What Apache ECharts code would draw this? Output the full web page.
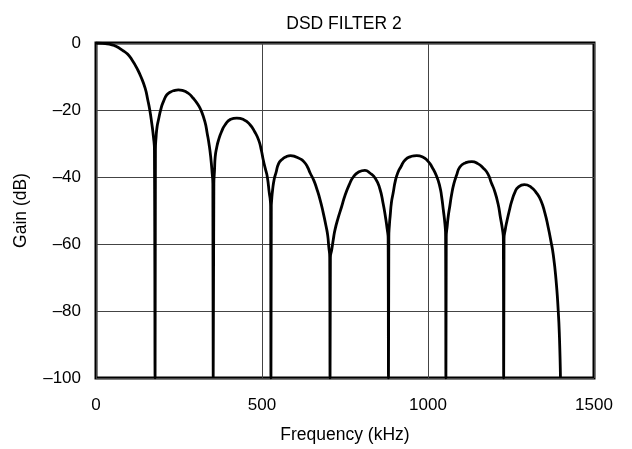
<!DOCTYPE html>
<html>
<head>
<meta charset="utf-8">
<title>DSD FILTER 2</title>
<script src="https://cdn.jsdelivr.net/npm/echarts@6/dist/echarts.min.js"></script>
<style>
  html, body { margin: 0; padding: 0; background: #fff; }
  #main { width: 632px; height: 449px; }
</style>
</head>
<body>
<div id="main"></div>
<script>
// values (frequency in kHz, gain in dB)
var freqKHz = [
  0, 20, 40, 60, 80, 95, 110, 123, 135, 148, 156, 162, 168, 173, 176, 178,
  179, 181, 184, 188, 196, 203, 213, 223, 235, 248, 262, 278, 293, 308, 316, 328, 335, 341, 346, 350, 352, 353,
  354, 355, 357, 359, 364, 369, 378, 389, 405, 424, 445, 464, 478, 490, 498, 504, 510, 516, 522, 525, 526, 527,
  528, 529, 532, 537, 542, 550, 560, 572, 586, 600, 615, 626, 637, 645, 656, 665, 675, 684, 693, 698, 701, 704, 705,
  706, 710, 715, 720, 730, 740, 750, 765, 775, 790, 810, 825, 842, 855, 865, 872, 877, 880, 881,
  882, 884, 886, 890, 895, 902, 910, 918, 931, 948, 966, 984, 1001, 1012, 1026, 1036, 1041, 1046, 1051, 1053, 1054,
  1055, 1058, 1061, 1066, 1071, 1078, 1086, 1096, 1112, 1132, 1150, 1166, 1180, 1191, 1200, 1211, 1218, 1224, 1227, 1228,
  1229, 1233, 1237, 1245, 1252, 1262, 1272, 1290, 1310, 1327, 1340, 1352, 1362, 1370, 1377, 1385, 1392, 1396, 1399
];
var gainDB = [
  0, -0.1, -0.3, -1, -2.2, -3.3, -5.3, -7.5, -10, -13.5, -17, -20, -24, -28, -32, -100,
  -32, -28, -25, -23, -19.5, -17.5, -15.5, -14.7, -14.2, -14, -14.2, -15, -16.5, -18.5, -20, -23.5, -27, -30.5, -34.5, -39, -42, -100,
  -100, -42, -38, -34, -31, -29, -26.5, -24.4, -22.8, -22.4, -22.9, -24.4, -26.5, -29, -32, -35, -37.5, -40, -44.8, -47, -49, -100,
  -49, -47, -43.8, -40.5, -38.8, -36, -34.8, -34, -33.6, -33.9, -34.6, -35.4, -37, -38.8, -41, -43.5, -46.8, -50.5, -54.7, -57.5, -60.7, -64, -100,
  -64, -61.7, -58.5, -55.7, -52, -48.8, -45.5, -41.8, -40, -38.6, -38, -38.8, -40.5, -43.5, -48, -52, -55.5, -58.5, -100,
  -58, -54, -51.7, -47.5, -44.8, -41, -38.5, -37, -34.9, -33.9, -33.6, -34, -35.4, -37, -39.8, -43, -45.8, -49.7, -54, -57.7, -100,
  -58, -54.5, -51.7, -48.5, -45.3, -42, -39.5, -37, -35.8, -35.4, -36, -37.3, -39, -41.8, -44, -48, -52, -55.5, -58.5, -100,
  -58.5, -55.5, -53.5, -50, -47.3, -44.5, -43, -42.3, -43, -44.8, -47, -50.7, -55, -59, -63, -70, -79.5, -88, -100
];
var xTicks = [0, 500, 1000, 1500];
var yTicks = [-100, -80, -60, -40, -20, 0];

var points = freqKHz.map(function (f, i) { return [f, gainDB[i]]; });

var dom = document.getElementById('main');
var myChart = echarts.init(dom, null, { renderer: 'canvas' });
var font = 'Liberation Sans, Arial, Helvetica, sans-serif';

var option = {
  animation: false,
  backgroundColor: '#fff',
  textStyle: { fontFamily: font },
  title: {
    text: 'DSD FILTER 2',
    left: 339,
    textAlign: 'center',
    top: 10,
    textStyle: { fontSize: 17.5, fontWeight: 'normal', color: '#000', fontFamily: font }
  },
  grid: {
    left: 96, right: 38, top: 43, bottom: 70,
    show: true,
    borderColor: '#000',
    borderWidth: 3,
    backgroundColor: 'transparent'
  },
  xAxis: {
    type: 'value',
    min: xTicks[0],
    max: xTicks[xTicks.length - 1],
    interval: 500,
    name: 'Frequency (kHz)',
    nameLocation: 'middle',
    nameGap: 48,
    nameTextStyle: { fontSize: 17.5, color: '#000', fontFamily: font },
    axisLine: { show: false },
    axisTick: { show: false },
    axisLabel: {
      fontSize: 17, color: '#000', margin: 19, fontFamily: font,
      formatter: function (v) { return String(v); }
    },
    splitLine: { show: true, lineStyle: { color: '#444', width: 1 } }
  },
  yAxis: {
    type: 'value',
    min: yTicks[0],
    max: yTicks[yTicks.length - 1],
    interval: 20,
    name: 'Gain (dB)',
    nameLocation: 'middle',
    nameGap: 66,
    nameTextStyle: { fontSize: 17.5, color: '#000', fontFamily: font },
    axisLine: { show: false },
    axisTick: { show: false },
    axisLabel: {
      fontSize: 17, color: '#000', margin: 15, fontFamily: font,
      formatter: function (v) { return String(v).replace('-', '\u2013'); }
    },
    splitLine: { show: true, lineStyle: { color: '#444', width: 1 } }
  },
  series: [{
    type: 'line',
    data: points,
    showSymbol: false,
    smooth: 0.55,
    clip: true,
    lineStyle: { color: '#000', width: 2.8 },
    z: 3
  }]
};

myChart.setOption(option, true);
</script>
</body>
</html>
